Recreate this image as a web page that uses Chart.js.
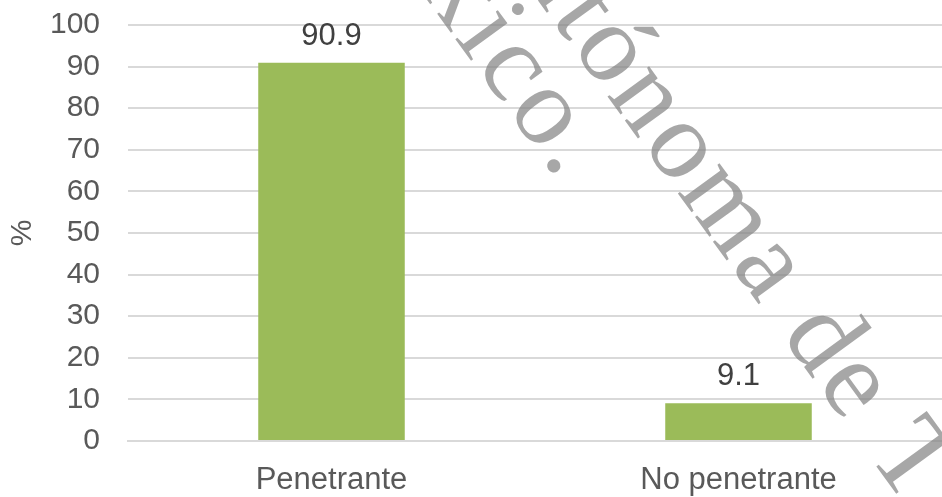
<!DOCTYPE html>
<html>
<head>
<meta charset="utf-8">
<script src="https://cdn.jsdelivr.net/npm/chart.js@4/dist/chart.umd.min.js"></script>
<style>
  html, body { margin: 0; padding: 0; background: #fff; }
  #wrap { width: 942px; height: 497px; }
</style>
</head>
<body>
<div id="wrap"><canvas id="chart"></canvas></div>
<script>
const categories = ['Penetrante', 'No penetrante'];
const values = [90.9, 9.1];
const yTicks = [0, 10, 20, 30, 40, 50, 60, 70, 80, 90, 100];

const FONT = '"Liberation Sans", Arial, sans-serif';

// value labels above each bar
const barLabels = {
  id: 'barLabels',
  afterDatasetsDraw(chart) {
    const ctx = chart.ctx;
    ctx.save();
    ctx.font = '31px ' + FONT;
    ctx.fillStyle = '#404040';
    ctx.textAlign = 'center';
    ctx.textBaseline = 'alphabetic';
    chart.getDatasetMeta(0).data.forEach((bar, i) => {
      ctx.fillText(values[i].toFixed(1), bar.x, bar.y - 18);
    });
    ctx.restore();
  }
};

// rotated grey watermark lying over the chart
const watermark = {
  id: 'watermark',
  afterDraw(chart) {
    const ctx = chart.ctx;
    const ang = 54 * Math.PI / 180;
    ctx.save();
    ctx.font = '112px "Liberation Serif", "Times New Roman", serif';
    ctx.letterSpacing = '4px';
    ctx.fillStyle = 'rgba(130,130,130,0.7)';
    ctx.textBaseline = 'alphabetic';
    function place(text, idx, tx, ty) {
      const pre = ctx.measureText(text.slice(0, idx)).width;
      const w = ctx.measureText(text[idx]).width;
      const lx = pre + w / 2, ly = -26;
      const c = Math.cos(ang), s = Math.sin(ang);
      const ox = tx - (lx * c - ly * s);
      const oy = ty - (lx * s + ly * c);
      ctx.save();
      ctx.translate(ox, oy);
      ctx.rotate(ang);
      ctx.fillText(text, 0, 0);
      ctx.restore();
    }
    place('Autónoma de T', 5, 680, 152);
    place('México.', 5, 545, 118);
    ctx.restore();
  }
};

new Chart(document.getElementById('chart'), {
  type: 'bar',
  data: {
    labels: categories,
    datasets: [{
      data: values,
      backgroundColor: '#9bbb59',
      barPercentage: 0.36,
      categoryPercentage: 1
    }]
  },
  options: {
    responsive: true,
    maintainAspectRatio: false,
    animation: false,
    layout: { padding: { top: 25, right: 0, bottom: 0, left: 0 } },
    scales: {
      y: {
        min: 0,
        max: 100,
        afterBuildTicks(scale) { scale.ticks = yTicks.map(v => ({ value: v })); },
        afterFit(scale) {
          scale.width = 128;
          scale.paddingTop = 0;
          scale.paddingBottom = 0;
        },
        ticks: {
          autoSkip: false,
          color: '#595959',
          font: { size: 30, family: FONT },
          padding: 28
        },
        grid: { color: '#d9d9d9', lineWidth: 2, drawTicks: false },
        border: { display: false },
        title: {
          display: true,
          text: '%',
          color: '#595959',
          font: { size: 30, family: FONT },
          padding: { top: 5, bottom: 0 }
        }
      },
      x: {
        afterFit(scale) {
          scale.height = 56;
          scale.paddingLeft = 0;
          scale.paddingRight = 0;
        },
        ticks: {
          color: '#595959',
          font: { size: 31, family: FONT },
          padding: 21
        },
        grid: { display: false, drawTicks: false },
        border: { display: true, color: '#d9d9d9', width: 2 }
      }
    },
    plugins: {
      legend: { display: false },
      tooltip: { enabled: false }
    }
  },
  plugins: [barLabels, watermark]
});
</script>
</body>
</html>
